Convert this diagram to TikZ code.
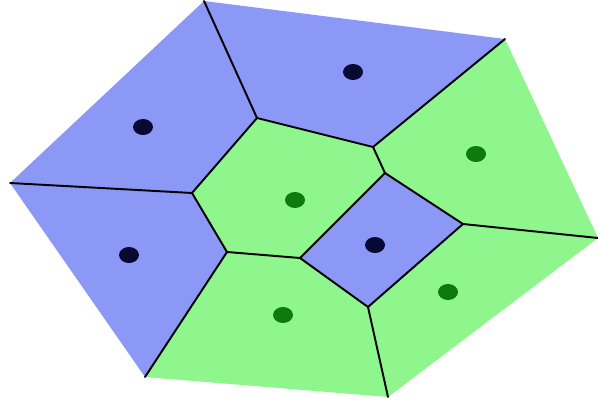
\documentclass[tikz,border=0pt]{standalone}
\usepackage{xcolor}
\usepackage{tikz}
\usetikzlibrary{positioning, shapes.geometric}

\definecolor{cellblue}{RGB}{140,152,246}
\definecolor{cellgreen}{RGB}{142,246,140}
\definecolor{seedblue}{RGB}{8,8,52}
\definecolor{seedgreen}{RGB}{12,122,12}

\begin{document}
\begin{tikzpicture}[x=0.02cm, y=-0.02cm,
    bluecell/.style={fill=cellblue},
    greencell/.style={fill=cellgreen},
    ridge/.style={line width=1.1pt, line cap=round, line join=round},
    seed/.style={ellipse, inner sep=0pt, minimum width=0.4cm, minimum height=0.32cm},
    bseed/.style={seed, fill=seedblue},
    gseed/.style={seed, fill=seedgreen}]
        \useasboundingbox (0,0) rectangle (598,405);

        % outer hull
        \coordinate (top) at (204,1);
        \coordinate (tr) at (505,39);
        \coordinate (rt) at (598,238);
        \coordinate (bot) at (388,397);
        \coordinate (bl) at (145,377);
        \coordinate (lf) at (10,183);

        % inner vertices
        \coordinate (va) at (257,118);
        \coordinate (vb) at (373,147);
        \coordinate (vc) at (385,173);
        \coordinate (vd) at (192,193);
        \coordinate (ve) at (227,252);
        \coordinate (vf) at (300,258);
        \coordinate (vg) at (463,224);
        \coordinate (vh) at (368,307);

        % cells
        \fill[bluecell] (lf) -- (top) -- (va) -- (vd) -- cycle;
        \fill[bluecell] (top) -- (tr) -- (vb) -- (va) -- cycle;
        \fill[greencell] (tr) -- (rt) -- (vg) -- (vc) -- (vb) -- cycle;
        \fill[greencell] (va) -- (vb) -- (vc) -- (vf) -- (ve) -- (vd) -- cycle;
        \fill[bluecell] (lf) -- (vd) -- (ve) -- (bl) -- cycle;
        \fill[greencell] (bl) -- (ve) -- (vf) -- (vh) -- (bot) -- cycle;
        \fill[bluecell] (vc) -- (vg) -- (vh) -- (vf) -- cycle;
        \fill[greencell] (vg) -- (rt) -- (bot) -- (vh) -- cycle;

        % ridges
        \foreach \p/\q in {top/va, tr/vb, lf/vd, bl/ve, rt/vg, bot/vh,
                           va/vb, vb/vc, va/vd, vd/ve, ve/vf,
                           vc/vg, vg/vh, vh/vf, vf/vc} {
          \draw[ridge] (\p) -- (\q);
        }

        % sites
        \node[bseed] (s1) at (143,127) {};
        \node[bseed] (s2) at (353,72) {};
        \node[gseed] (s3) at (476,154) {};
        \node[gseed] (s4) at (295,200) {};
        \node[bseed] (s5) at (129,255) {};
        \node[gseed] (s6) at (283,315) {};
        \node[bseed] (s7) at (375,245) {};
        \node[gseed] (s8) at (448,292) {};
\end{tikzpicture}
\end{document}
